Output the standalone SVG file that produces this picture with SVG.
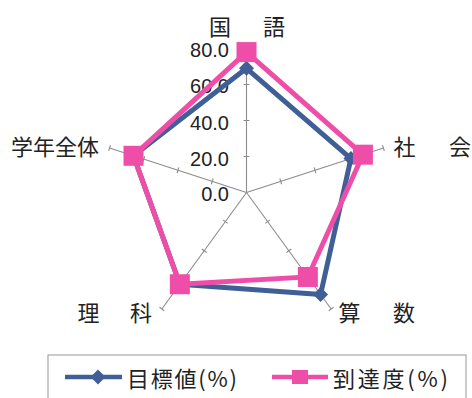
<svg xmlns="http://www.w3.org/2000/svg" width="472" height="398" viewBox="0 0 472 398">
<style>
.ax{stroke:#8c8c8c;stroke-width:1.1;fill:none}
.num{font-family:"Liberation Sans",Arial,sans-serif;font-size:20px;fill:#222;text-anchor:end}
.lbl{font-family:"Noto Sans CJK JP","Noto Sans CJK SC",sans-serif;font-size:22px;fill:#222;text-anchor:middle}
.leg{font-family:"Noto Sans CJK JP","Noto Sans CJK SC",sans-serif;font-size:22px;fill:#222}
.blue{stroke:#3f5f96;stroke-width:5;fill:none;stroke-linejoin:round}
.pink{stroke:#ee4ea8;stroke-width:5;fill:none;stroke-linejoin:miter}
.bm{fill:#3f5f96}
.pm{fill:#ee4ea8}
</style>
<defs>
<g id="axis">
<line class="ax" x1="246.5" y1="192.5" x2="246.5" y2="48.5"/>
<path class="ax" d="M243.5 156.5h6M243.5 120.5h6M243.5 84.5h6M243.5 48.5h6"/>
</g>
<rect id="sq" x="-10" y="-10" width="20" height="20"/>
<path id="dm" d="M0 -7.5L7.5 0L0 7.5L-7.5 0Z"/>
</defs>
<rect width="472" height="398" fill="#fff"/>
<g id="grid">
<use href="#axis"/>
<use href="#axis" transform="rotate(72 246.5 192.5)"/>
<use href="#axis" transform="rotate(144 246.5 192.5)"/>
<use href="#axis" transform="rotate(216 246.5 192.5)"/>
<use href="#axis" transform="rotate(288 246.5 192.5)"/>
</g>
<g id="scale">
<text class="num" x="229" y="57">80.0</text>
<text class="num" x="229" y="93">60.0</text>
<text class="num" x="229" y="129.5">40.0</text>
<text class="num" x="229" y="165.5">20.0</text>
<text class="num" x="229" y="200.5">0.0</text>
</g>
<g id="axis-labels">
<g id="kokugo"><text class="lbl" x="220" y="35">国</text><text class="lbl" x="274" y="35">語</text></g>
<g id="shakai"><text class="lbl" x="404.5" y="155">社</text><text class="lbl" x="460" y="155">会</text></g>
<g id="sansu"><text class="lbl" x="349.5" y="321">算</text><text class="lbl" x="404" y="321">数</text></g>
<g id="rika"><text class="lbl" x="88.5" y="321">理</text><text class="lbl" x="141" y="321">科</text></g>
<g id="gakunen"><text class="leg" x="11" y="155">学年全体</text></g>
</g>
<g id="connectors">
<polygon id="series-target" class="blue" points="246.5,68.3 350.93,158.57 320.56,294.43 179.84,284.24 133.51,155.79"/>
<polygon id="series-actual" class="pink" points="246.5,52.1 362.91,154.68 307.87,276.96 179.84,284.24 133.51,155.79"/>
</g>
<g id="markers-target" class="bm">
<use href="#dm" x="246.5" y="68.3"/>
<use href="#dm" x="350.93" y="158.57"/>
<use href="#dm" x="320.56" y="294.43"/>
<use href="#dm" x="179.84" y="284.24"/>
<use href="#dm" x="133.51" y="155.79"/>
</g>
<g id="markers-actual" class="pm">
<use href="#sq" x="246.5" y="52.1"/>
<use href="#sq" x="362.91" y="154.68"/>
<use href="#sq" x="307.87" y="276.96"/>
<use href="#sq" x="179.84" y="284.24"/>
<use href="#sq" x="133.51" y="155.79"/>
</g>
<g id="legend">
<rect x="48" y="355" width="418" height="60" fill="none" stroke="#a8a8a8" stroke-width="1.2"/>
<line x1="65" y1="377" x2="122" y2="377" stroke="#3f5f96" stroke-width="4.5"/>
<use href="#dm" x="98" y="377" class="bm"/>
<text class="leg" x="127" y="387" textLength="110" lengthAdjust="spacing">目標値(%)</text>
<line x1="272" y1="377" x2="328" y2="377" stroke="#ee4ea8" stroke-width="4.5"/>
<rect x="292" y="370" width="16" height="14" class="pm"/>
<text class="leg" x="333" y="387" textLength="115" lengthAdjust="spacing">到達度(%)</text>
</g>
</svg>
